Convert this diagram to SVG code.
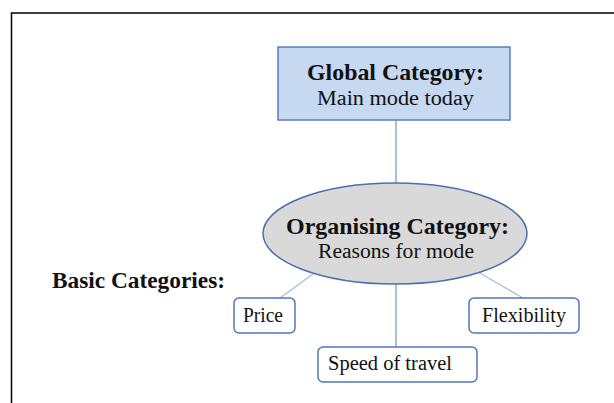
<svg xmlns="http://www.w3.org/2000/svg" width="614" height="403" viewBox="0 0 614 403">
  <style>
    text { font-family: "Liberation Serif", "Times New Roman", serif; fill: #111; text-anchor: middle; }
    .b { font-weight: bold; font-size: 22.5px; }
    .r { font-size: 20.5px; }
    .leaf { fill: #ffffff; stroke: #4f78b8; stroke-width: 1.5; }
    .stem { stroke: #7393cc; stroke-width: 1.2; fill: none; }
    .branch { stroke: #a9c0e2; stroke-width: 1.4; fill: none; }
  </style>
  <rect width="614" height="403" fill="#ffffff"/>
  <!-- outer frame -->
  <rect x="11.5" y="13" width="620" height="400" fill="none" stroke="#000" stroke-width="1.5"/>

  <g id="connectors">
    <line class="stem" x1="396" y1="120" x2="396" y2="183"/>
    <line class="stem" x1="396" y1="284" x2="396" y2="347"/>
    <line class="branch" x1="313" y1="274" x2="280" y2="298"/>
    <line class="branch" x1="478" y1="272" x2="523" y2="298"/>
  </g>

  <g id="global">
    <rect x="278" y="47" width="232" height="73" fill="#c6d9f1" stroke="#5a7fc0" stroke-width="1.5"/>
    <text class="b" x="395.5" y="80" textLength="177" lengthAdjust="spacingAndGlyphs">Global Category:</text>
    <text class="r" x="395.5" y="105" textLength="157" lengthAdjust="spacingAndGlyphs">Main mode today</text>
  </g>

  <g id="organising">
    <ellipse cx="395" cy="233.5" rx="132" ry="50.5" fill="#d9d9d9" stroke="#4a6fae" stroke-width="1.5"/>
    <text class="b" x="397.5" y="234" textLength="223" lengthAdjust="spacingAndGlyphs">Organising Category:</text>
    <text class="r" x="396" y="258" textLength="156" lengthAdjust="spacingAndGlyphs">Reasons for mode</text>
  </g>

  <g id="basic-label">
    <text class="b" x="138.5" y="288" textLength="173" lengthAdjust="spacingAndGlyphs">Basic Categories:</text>
  </g>

  <g id="price">
    <rect class="leaf" x="234" y="298" width="61" height="35" rx="5"/>
    <text class="r" x="263" y="322" textLength="40" lengthAdjust="spacingAndGlyphs">Price</text>
  </g>

  <g id="flexibility">
    <rect class="leaf" x="469" y="298" width="110" height="35" rx="5"/>
    <text class="r" x="524" y="322" textLength="84" lengthAdjust="spacingAndGlyphs">Flexibility</text>
  </g>

  <g id="speed">
    <rect class="leaf" x="318" y="347" width="159" height="35" rx="5"/>
    <text class="r" x="390" y="370" textLength="124" lengthAdjust="spacingAndGlyphs">Speed of travel</text>
  </g>
</svg>
